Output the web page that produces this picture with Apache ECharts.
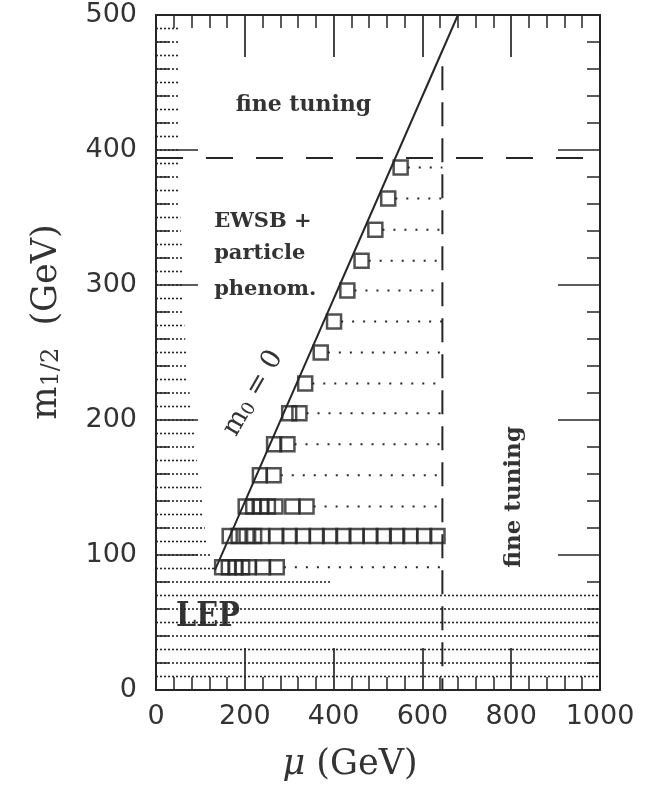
<!DOCTYPE html>
<html><head><meta charset="utf-8">
<script src="https://cdn.jsdelivr.net/npm/echarts@6/dist/echarts.min.js"></script>
<style>html,body{margin:0;padding:0;background:#fff}#c{width:655px;height:785px}</style>
</head><body><div id="c"></div>
<script>
// ---------- data ----------
const xTicks = [0, 200, 400, 600, 800, 1000];
const yTicks = [0, 100, 200, 300, 400, 500];

// scan points (squares): mu (GeV), m1/2 (GeV)
const squaresMu = [
  551,
  523,
  494,
  463,
  431,
  401,
  371,
  336,
  300, 323,
  266, 296,
  234, 265,
  202, 219, 236, 252, 269, 307, 339,
  166, 186, 204, 221, 239, 271, 301, 331, 362, 392, 422, 452, 483, 513, 543, 573, 604, 634,
  149, 164, 179, 194, 209, 241, 272
];
const squaresM = [
  387,
  364,
  341,
  318,
  296,
  273,
  250,
  227,
  205, 205,
  182, 182,
  159, 159,
  136, 136, 136, 136, 136, 136, 136,
  114, 114, 114, 114, 114, 114, 114, 114, 114, 114, 114, 114, 114, 114, 114, 114, 114, 114,
  91, 91, 91, 91, 91, 91, 91
];

// m0 = 0 line
const m0LineMu = [133, 680];
const m0LineM = [89, 500];

// fine-tuning limits
const fineTuningM = 394;      // horizontal dashed line
const fineTuningMu = 645;     // vertical dashed line
const fineTuningMuTop = 462;  // vertical dashed line upper end (m1/2)

// left excluded region (dotted hatching), end of each hatch line in mu
const leftHatchM = [90, 100, 110, 120, 130, 140, 150, 160, 170, 180, 190, 200, 210, 220, 230, 240, 250,
  260, 270, 280, 290, 300, 310, 320, 330, 340, 350, 360, 370, 380, 390, 400, 410, 420, 430, 440, 450,
  460, 470, 480, 490];
const leftHatchMu = [133, 126, 116, 110, 106, 104, 102, 96, 92, 88, 86, 84, 80, 76, 72, 70, 68,
  66, 64, 63, 62, 60, 60, 60, 58, 56, 55, 54, 54, 53, 52, 52, 52, 52, 50, 50, 50,
  50, 50, 50, 50];

// LEP excluded region (dotted hatching)
const lepM = [10, 20, 30, 40, 50, 60, 70, 80];
const lepMu = [1000, 1000, 1000, 1000, 1000, 1000, 1000, 393];

// ---------- chart ----------
const ink = '#262626';
const txt = '#333333';
const halfSquareMu = 16;
const chart = echarts.init(document.getElementById('c'), null, {renderer: 'canvas'});

function axisCommon(labels, margin) {
  return {
    axisLine: {show: true, onZero: false, lineStyle: {color: ink, width: 2}},
    axisTick: {show: true, inside: true, length: 42, lineStyle: {color: ink, width: 1.7}},
    minorTick: {show: true, splitNumber: 5, length: 13, lineStyle: {color: ink, width: 1.5}},
    splitLine: {show: false}, minorSplitLine: {show: false},
    axisLabel: {show: labels, fontSize: 27, fontFamily: 'DejaVu Sans', color: txt, margin: margin,
      formatter: v => String(v)}
  };
}
function xAx(pos, labels) {
  return Object.assign({
    type: 'value', min: xTicks[0], max: xTicks[xTicks.length - 1], interval: xTicks[1] - xTicks[0],
    position: pos
  }, axisCommon(labels, 13));
}
function yAx(pos, labels) {
  return Object.assign({
    type: 'value', min: yTicks[0], max: yTicks[yTicks.length - 1], interval: yTicks[1] - yTicks[0],
    position: pos
  }, axisCommon(labels, 19));
}

const series = [];
function seg(x1, y1, x2, y2, style) {
  series.push({
    type: 'line', xAxisIndex: 0, yAxisIndex: 0, symbol: 'none', silent: true, animation: false,
    data: [[x1, y1], [x2, y2]],
    lineStyle: Object.assign({color: ink, width: 1.8, cap: 'butt'}, style)
  });
}

// LEP hatching
lepM.forEach((m, i) => seg(0, m, lepMu[i], m, {type: [2, 2], width: 1.6}));
// left hatching
leftHatchM.forEach((m, i) => seg(0, m, leftHatchMu[i], m, {type: [2, 2], width: 1.6}));
// dotted lines from each scan row to the fine tuning limit
const rowEnds = {};
squaresM.forEach((m, i) => { rowEnds[m] = Math.max(rowEnds[m] || 0, squaresMu[i]); });
Object.keys(rowEnds).forEach(k => {
  const start = rowEnds[k] + halfSquareMu;
  if (start < fineTuningMu) seg(start, +k, fineTuningMu, +k, {type: [2, 9], width: 2});
});
// fine tuning dashed lines
seg(0, fineTuningM, 1000, fineTuningM, {type: [27, 23], width: 2});
seg(fineTuningMu, fineTuningMuTop, fineTuningMu, 0, {type: [24, 12], width: 2});
// m0 = 0 line
seg(m0LineMu[0], m0LineM[0], m0LineMu[1], m0LineM[1], {type: 'solid', width: 2});
// squares
series.push({
  type: 'scatter', xAxisIndex: 0, yAxisIndex: 0, animation: false, silent: true,
  symbol: 'rect', symbolSize: 14,
  itemStyle: {color: 'rgba(0,0,0,0)', borderColor: ink, borderWidth: 2.5},
  data: squaresMu.map((mu, i) => [mu, squaresM[i]]),
  z: 5
});

chart.setOption({
  backgroundColor: '#fff',
  animation: false,
  grid: {left: 156, right: 55, top: 15, bottom: 95},
  xAxis: [xAx('bottom', true), xAx('top', false)],
  yAxis: [yAx('left', true), yAx('right', false)],
  series: series
});

function px(mu, m) { return chart.convertToPixel({xAxisIndex: 0, yAxisIndex: 0}, [mu, m]); }
const bold = {fontFamily: 'DejaVu Serif', fontWeight: 'bold', fill: txt};
const p1 = px(332, 433), p2 = px(131, 347), p3 = px(131, 323), p4 = px(131, 297);
const p5 = px(806, 143), p6 = px(117, 54), p7 = px(212, 221);
chart.setOption({
  graphic: [
    {type: 'text', x: p1[0], y: p1[1], style: Object.assign({text: 'fine tuning', fontSize: 22, align: 'center', verticalAlign: 'middle'}, bold)},
    {type: 'text', x: p2[0], y: p2[1], style: Object.assign({text: 'EWSB +', fontSize: 21, align: 'left', verticalAlign: 'middle'}, bold)},
    {type: 'text', x: p3[0], y: p3[1], style: Object.assign({text: 'particle', fontSize: 21, align: 'left', verticalAlign: 'middle'}, bold)},
    {type: 'text', x: p4[0], y: p4[1], style: Object.assign({text: 'phenom.', fontSize: 21, align: 'left', verticalAlign: 'middle'}, bold)},
    {type: 'text', x: p5[0], y: p5[1], rotation: Math.PI / 2, style: Object.assign({text: 'fine tuning', fontSize: 23, align: 'center', verticalAlign: 'middle'}, bold)},
    {type: 'text', x: p6[0], y: p6[1], scaleX: 0.85, style: Object.assign({text: 'LEP', fontSize: 34, align: 'center', verticalAlign: 'middle'}, bold)},
    {type: 'text', x: p7[0], y: p7[1], rotation: 60 * Math.PI / 180, style: {
      text: '{a|m}{b|0}{a| = 0}', align: 'center', verticalAlign: 'middle', fill: txt,
      rich: {a: {fontFamily: 'DejaVu Serif', fontSize: 27, fill: txt, lineHeight: 34, verticalAlign: 'bottom'},
             b: {fontFamily: 'DejaVu Serif', fontSize: 18, fill: txt, lineHeight: 34, verticalAlign: 'bottom', padding: [9, 0, 0, 0]}}
    }},
    {type: 'text', x: 42, y: 322, rotation: Math.PI / 2, style: {
      text: '{a|m}{b|1/2}{a|  (GeV)}', align: 'center', verticalAlign: 'middle', fill: txt,
      rich: {a: {fontFamily: 'DejaVu Serif', fontSize: 35, fill: txt, lineHeight: 44, verticalAlign: 'bottom'},
             b: {fontFamily: 'DejaVu Serif', fontSize: 24, fill: txt, lineHeight: 44, verticalAlign: 'bottom', padding: [12, 0, 0, 0]}}
    }},
    {type: 'text', x: 350, y: 765, style: {
      text: '{i|μ}{a| (GeV)}', align: 'center', verticalAlign: 'middle', fill: txt,
      rich: {i: {fontFamily: 'DejaVu Serif', fontStyle: 'italic', fontSize: 35, fill: txt},
             a: {fontFamily: 'DejaVu Serif', fontSize: 35, fill: txt}}
    }}
  ]
});
</script>
</body></html>
